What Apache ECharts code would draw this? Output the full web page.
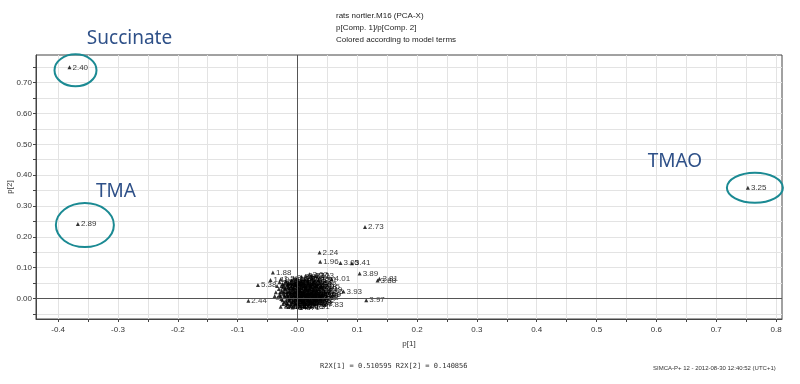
<!DOCTYPE html>
<html>
<head>
<meta charset="utf-8">
<title>PCA loadings</title>
<script src="https://cdn.jsdelivr.net/npm/echarts@6/dist/echarts.min.js"></script>
<style>
  html, body { margin: 0; padding: 0; background: #fff; }
  #chart { width: 800px; height: 384px; }
</style>
</head>
<body>
<div id="chart"></div>
<script>
// loadings p[1] / p[2], label = ppm bin
const pointP1 = [
  -0.381, -0.367, 0.753, 0.113, 0.037, 0.038, 0.072, 0.091, 0.104, 0.137, 0.134,
  0.057, 0.077, 0.115, -0.041, -0.045, -0.066, -0.082, -0.028, 0.004, 0.046, 0.040, 0.020,
  -0.030, -0.025, -0.020, -0.015, -0.010, -0.005, 0.000, 0.006, 0.012, 0.018, 0.024, 0.030,
  0.027, 0.034, 0.040, 0.036, 0.028, 0.022, 0.015, 0.008, 0.002, -0.004, -0.010, -0.017,
  -0.024, -0.031, -0.026, -0.020, -0.014, -0.008, -0.002, 0.004, 0.010, 0.016, 0.022, 0.028,
  0.034, 0.042, 0.038, 0.030, 0.024, 0.018, 0.012, 0.006, 0.000, -0.006, -0.012, -0.018,
  -0.024, -0.030, -0.033, -0.027, -0.021, -0.015, -0.009, -0.003, 0.003, 0.009, 0.015, 0.021,
  0.027, 0.033, 0.026, 0.019, 0.012, 0.005, -0.002, -0.009, -0.016, -0.022, -0.019, -0.012,
  -0.005, 0.010, 0.018, -0.028, -0.034, -0.036, -0.038, 0.044, 0.046, 0.007, -0.006, 0.014,
  -0.013, 0.001, 0.019, -0.001, 0.008,
  -0.022, -0.016, -0.011, -0.003, 0.004, 0.011, 0.017, 0.025, 0.031, -0.027, -0.021, -0.015,
  -0.007, 0.006, 0.012, 0.020, 0.026, 0.032, -0.029, -0.023, -0.017, -0.011, -0.005, 0.002,
  0.007, 0.013, 0.019, 0.025, 0.031, 0.037, -0.028, -0.022, -0.016, -0.010, -0.004, 0.002,
  0.008, 0.014, 0.020, 0.026, 0.032, -0.025, -0.019, -0.013, -0.007, -0.001, 0.005, 0.011,
  0.017, 0.023, 0.029, -0.024, -0.018, -0.011, -0.004, 0.002, 0.008, 0.014, 0.021, 0.028,
  -0.015, -0.008, 0.000, 0.006, 0.013, 0.023, -0.001, 0.005, 0.011, -0.009, 0.016, -0.006,
  0.004, 0.010, -0.012, 0.021, 0.001, -0.018, 0.029, 0.035, 0.024, 0.014, -0.002
];
const pointP2 = [
  0.750, 0.241, 0.359, 0.232, 0.149, 0.119, 0.115, 0.114, 0.081, 0.064, 0.058,
  0.063, 0.022, -0.006, 0.084, 0.060, 0.043, -0.008, -0.027, -0.024, -0.021, 0.010, 0.078,
  0.052, 0.047, 0.055, 0.050, 0.058, 0.053, 0.060, 0.056, 0.062, 0.058, 0.066, 0.072,
  0.052, 0.045, 0.038, 0.030, 0.036, 0.042, 0.040, 0.044, 0.040, 0.043, 0.038, 0.041,
  0.036, 0.030, 0.025, 0.029, 0.024, 0.028, 0.022, 0.027, 0.021, 0.026, 0.020, 0.024,
  0.016, 0.010, 0.002, 0.008, 0.012, 0.006, 0.013, 0.008, 0.014, 0.009, 0.015, 0.010,
  0.016, 0.011, 0.003, -0.002, 0.004, -0.003, 0.002, -0.004, 0.001, -0.005, 0.000, -0.006,
  -0.001, -0.008, -0.013, -0.011, -0.016, -0.012, -0.017, -0.013, -0.018, -0.012, -0.024, -0.026,
  -0.023, -0.025, -0.022, 0.062, 0.040, 0.020, 0.008, 0.028, 0.020, 0.070, 0.066, 0.034,
  0.032, 0.033, 0.048, 0.003, 0.018,
  0.044, 0.046, 0.049, 0.047, 0.049, 0.051, 0.053, 0.047, 0.040, 0.039, 0.034, 0.036,
  0.034, 0.036, 0.030, 0.032, 0.029, 0.026, 0.020, 0.022, 0.018, 0.021, 0.017, 0.019,
  0.015, 0.018, 0.014, 0.017, 0.013, 0.009, 0.007, 0.010, 0.005, 0.008, 0.004, 0.007,
  0.003, 0.006, 0.002, 0.005, 0.001, -0.006, -0.008, -0.006, -0.009, -0.007, -0.004, -0.009,
  -0.007, -0.010, -0.005, -0.018, -0.015, -0.019, -0.014, -0.019, -0.013, -0.018, -0.016, -0.019,
  -0.028, -0.030, -0.028, -0.031, -0.027, -0.026, 0.012, 0.024, 0.040, 0.044, 0.011, 0.018,
  -0.001, 0.009, 0.000, 0.037, 0.052, 0.052, 0.058, 0.060, 0.074, 0.072, 0.064
];
const pointLabels = [
  '2.40', '2.89', '3.25', '2.73', '2.24', '1.96', '3.05', '3.41', '3.89', '3.81', '3.88',
  '4.01', '3.93', '3.97', '1.88', '1.19', '5.38', '2.44', '3.01', '1.20', '7.83', '1.49', '2.07',
  '2.53', '2.71', '3.55', '3.37', '2.94', '3.27', '3.66', '4.12', '3.78', '4.06', '3.74', '3.23',
  '3.84', '1.33', '2.15', '2.31', '3.71', '3.44', '3.50', '3.62', '3.91', '4.23', '4.36', '3.30',
  '2.03', '1.48', '1.05', '0.93', '1.25', '1.72', '2.11', '2.47', '2.61', '2.85', '3.13', '3.19',
  '3.46', '3.59', '3.68', '3.79', '3.96', '4.05', '4.10', '4.16', '4.29', '4.41', '5.23', '5.41',
  '6.89', '7.42', '7.55', '7.36', '8.45', '8.22', '1.17', '1.31', '1.93', '2.21', '2.38', '2.66',
  '2.77', '3.02', '3.09', '3.16', '3.33', '3.48', '3.64', '3.73', '3.82', '4.08', '4.64', '5.05',
  '6.52', '7.17', '0.98', '1.59', '1.63', '1.07', '1.39', '2.49', '2.95', '3.85', '3.94', '3.26',
  '3.40', '3.58', '3.70', '2.35', '2.58',
  '2.09', '2.13', '2.17', '2.19', '2.27', '2.29', '2.33', '2.42', '2.45', '2.51', '2.55', '2.57',
  '2.63', '2.67', '2.69', '2.75', '2.79', '2.81', '2.83', '2.87', '2.91', '2.97', '2.99', '3.03',
  '3.07', '3.11', '3.15', '3.17', '3.21', '3.29', '3.31', '3.35', '3.39', '3.43', '3.47', '3.51',
  '3.53', '3.57', '3.63', '3.67', '3.69', '3.72', '3.76', '3.80', '3.83', '3.87', '3.92', '3.95',
  '3.99', '4.03', '4.07', '4.11', '4.14', '4.18', '4.21', '4.25', '4.27', '4.31', '4.33', '4.38',
  '4.44', '4.49', '4.57', '4.71', '5.13', '5.31', '5.45', '5.92', '6.05', '6.19', '6.70', '7.05',
  '7.28', '7.62', '7.71', '8.02', '8.35', '8.60', '0.89', '1.01', '1.11', '1.23', '1.27'
];

// circled metabolites
const annotNames = ['Succinate', 'TMA', 'TMAO'];
const annotP1 = [-0.381, -0.367, 0.753];
const annotP2 = [0.750, 0.241, 0.359];

// tick positions
const xLabelTicks = [-0.4, -0.3, -0.2, -0.1, 0, 0.1, 0.2, 0.3, 0.4, 0.5, 0.6, 0.7, 0.8];
const xMinorTicks = [-0.4, -0.35, -0.3, -0.25, -0.2, -0.15, -0.1, -0.05, 0, 0.05, 0.1, 0.15, 0.2,
  0.25, 0.3, 0.35, 0.4, 0.45, 0.5, 0.55, 0.6, 0.65, 0.7, 0.75, 0.8];
const yLabelTicks = [0, 0.1, 0.2, 0.3, 0.4, 0.5, 0.6, 0.7];
const yMinorTicks = [-0.05, 0, 0.05, 0.1, 0.15, 0.2, 0.25, 0.3, 0.35, 0.4, 0.45, 0.5, 0.55, 0.6,
  0.65, 0.7, 0.75];

// pixel placement of ellipse / big label relative to the point (style only)
const annotLook = [
  { dx: 6, dy: 3, rx: 21, ry: 16, tx: 60, ty: -29 },
  { dx: 7, dy: 1, rx: 29, ry: 22, tx: 38, ty: -33 },
  { dx: 7, dy: 0, rx: 28, ry: 15, tx: -73, ty: -26 }
];

const axisFont = "'Liberation Sans', Arial, sans-serif";

const chart = echarts.init(document.getElementById('chart'));

const option = {
  animation: false,
  backgroundColor: '#fff',
  title: [
    {
      text: 'rats nortier.M16 (PCA-X)\np[Comp. 1]/p[Comp. 2]\nColored according to model terms',
      left: 336,
      top: 10,
      padding: 0,
      textStyle: { fontSize: 8, fontWeight: 'normal', color: '#222', lineHeight: 12, fontFamily: axisFont }
    },
    {
      text: 'R2X[1] = 0.510595 R2X[2] = 0.140856',
      left: 320,
      top: 363,
      padding: 0,
      textStyle: { fontSize: 7, fontWeight: 'normal', color: '#333', fontFamily: "'DejaVu Sans Mono', 'Liberation Mono', monospace" }
    },
    {
      text: 'SIMCA-P+ 12 - 2012-08-30 12:40:52 (UTC+1)',
      left: 653,
      top: 365,
      padding: 0,
      textStyle: { fontSize: 6, fontWeight: 'normal', color: '#333', fontFamily: axisFont }
    }
  ],
  grid: {
    left: 36,
    right: 18,
    top: 55,
    bottom: 65,
    outerBoundsMode: 'none',
    containLabel: false,
    show: true,
    borderColor: '#444',
    borderWidth: 1,
    backgroundColor: 'transparent'
  },
  xAxis: {
    type: 'value',
    min: -0.437,
    max: 0.81,
    name: 'p[1]',
    nameLocation: 'middle',
    nameGap: 21,
    nameMoveOverlap: false,
    nameTextStyle: { fontSize: 8, color: '#333', fontFamily: axisFont },
    axisLine: { onZero: false, lineStyle: { color: '#444' } },
    axisTick: { length: 3, customValues: xMinorTicks, lineStyle: { color: '#444' } },
    axisLabel: {
      customValues: xLabelTicks,
      fontSize: 8,
      color: '#333',
      margin: 7,
      fontFamily: axisFont,
      formatter: v => (v === 0 ? '-0.0' : v.toFixed(1))
    },
    splitLine: { show: true, lineStyle: { color: '#e3e3e3' } }
  },
  yAxis: {
    type: 'value',
    min: -0.067,
    max: 0.79,
    name: 'p[2]',
    nameLocation: 'middle',
    nameGap: 22,
    nameMoveOverlap: false,
    nameTextStyle: { fontSize: 8, color: '#333', fontFamily: axisFont },
    axisLine: { onZero: false, lineStyle: { color: '#444' } },
    axisTick: { length: 3, customValues: yMinorTicks, lineStyle: { color: '#444' } },
    axisLabel: {
      customValues: yLabelTicks,
      fontSize: 8,
      color: '#333',
      margin: 4,
      fontFamily: axisFont,
      formatter: v => v.toFixed(2)
    },
    splitLine: { show: true, lineStyle: { color: '#e3e3e3' } }
  },
  series: [
    {
      type: 'scatter',
      symbol: 'triangle',
      symbolSize: [4, 4],
      itemStyle: { color: '#000' },
      data: pointP1.map((x, i) => ({ value: [x, pointP2[i]], name: pointLabels[i] })),
      label: {
        show: true,
        position: 'right',
        distance: 1,
        formatter: '{b}',
        fontSize: 8,
        color: '#000',
        fontFamily: axisFont
      },
      markLine: {
        silent: true,
        symbol: 'none',
        label: { show: false },
        lineStyle: { color: '#555', type: 'solid', width: 1 },
        data: [{ xAxis: 0 }, { yAxis: 0 }]
      },
      z: 3
    },
    {
      // teal rings + blue names
      type: 'custom',
      clip: false,
      silent: true,
      data: annotP1.map((x, i) => [x, annotP2[i]]),
      renderItem: (params, api) => {
        const p = api.coord([api.value(0), api.value(1)]);
        const a = annotLook[params.dataIndex];
        return {
          type: 'group',
          children: [
            {
              type: 'ellipse',
              shape: { cx: p[0] + a.dx, cy: p[1] + a.dy, rx: a.rx, ry: a.ry },
              style: { fill: 'none', stroke: '#1b8a93', lineWidth: 2 }
            },
            {
              type: 'text',
              x: p[0] + a.tx,
              y: p[1] + a.ty,
              style: {
                text: annotNames[params.dataIndex],
                fill: '#2e5088',
                font: "19px 'Noto Sans', 'Open Sans', sans-serif",
                align: 'center',
                verticalAlign: 'middle'
              }
            }
          ]
        };
      },
      z: 4
    }
  ]
};

chart.setOption(option);
</script>
</body>
</html>
